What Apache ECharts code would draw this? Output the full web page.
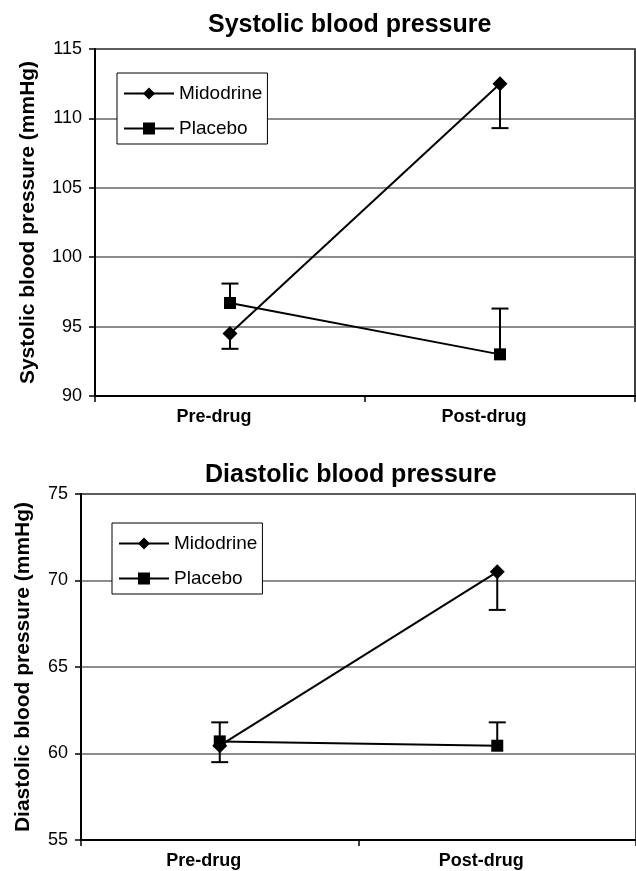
<!DOCTYPE html>
<html>
<head>
<meta charset="utf-8">
<script src="https://cdn.jsdelivr.net/npm/echarts@6/dist/echarts.min.js"></script>
<style>
html, body { margin: 0; padding: 0; background: #fff; }
#bp-chart { width: 636px; height: 871px; }
</style>
</head>
<body>
<div id="bp-chart"></div>
<script>
var categories = ['Pre-drug', 'Post-drug'];

// systolic (mmHg)
var sysMidodrine = [94.5, 112.5];
var sysMidodrineLow = [93.4, 109.3];   // minus error bars
var sysPlacebo = [96.7, 93.0];
var sysPlaceboHigh = [98.1, 96.3];     // plus error bars

// diastolic (mmHg)
var diaMidodrine = [60.45, 70.5];
var diaMidodrineLow = [59.5, 68.3];
var diaPlacebo = [60.7, 60.45];
var diaPlaceboHigh = [61.8, 61.8];

var sysTicks = [90, 115, 5];
var diaTicks = [55, 75, 5];

var font = "'Liberation Sans', Arial, sans-serif";

function errData(mean, end) {
    return mean.map(function (v, i) { return [i, v, end[i]]; });
}

function renderErr(params, api) {
    var p1 = api.coord([api.value(0), api.value(1)]);
    var p2 = api.coord([api.value(0), api.value(2)]);
    var style = { stroke: '#000', lineWidth: 2 };
    return {
        type: 'group',
        children: [
            { type: 'line', shape: { x1: p1[0], y1: p1[1], x2: p2[0], y2: p2[1] }, style: style },
            { type: 'line', shape: { x1: p2[0] - 8.5, y1: p2[1], x2: p2[0] + 8.5, y2: p2[1] }, style: style }
        ]
    };
}

function yAxis(idx, ticks, name, gap) {
    return {
        type: 'value',
        gridIndex: idx,
        min: ticks[0], max: ticks[1], interval: ticks[2],
        name: name,
        nameLocation: 'middle',
        nameGap: gap,
        nameTextStyle: { fontFamily: font, fontSize: 21, fontWeight: 'bold', color: '#000' },
        axisLine: { show: true, lineStyle: { color: '#000', width: 2 } },
        axisTick: { show: true, length: 6, lineStyle: { color: '#000', width: 1.5 } },
        axisLabel: { fontFamily: font, fontSize: 18, color: '#000', margin: 13 },
        splitLine: { lineStyle: { color: '#666', width: 1.5 } }
    };
}

function xAxis(idx) {
    return {
        type: 'category',
        gridIndex: idx,
        data: categories,
        boundaryGap: true,
        axisLine: { lineStyle: { color: '#000', width: 2 } },
        axisTick: { show: true, length: 6, lineStyle: { color: '#000', width: 1.5 } },
        axisLabel: {
            fontFamily: font, fontSize: 18, fontWeight: 'bold', color: '#000',
            margin: 12, padding: [0, 32, 0, 0]
        }
    };
}

function lineSeries(name, idx, data, symbol, size) {
    return {
        name: name,
        type: 'line',
        xAxisIndex: idx, yAxisIndex: idx,
        data: data,
        symbol: symbol,
        symbolSize: size,
        showAllSymbol: true,
        lineStyle: { color: '#000', width: 2 },
        itemStyle: { color: '#000' },
        z: 3
    };
}

function errSeries(name, idx, mean, end) {
    return {
        name: name,
        type: 'custom',
        xAxisIndex: idx, yAxisIndex: idx,
        data: errData(mean, end),
        encode: { x: 0, y: [1, 2] },
        renderItem: renderErr,
        z: 2
    };
}

function legend(left, top) {
    return {
        orient: 'vertical',
        left: left, top: top,
        data: ['Midodrine', 'Placebo'],
        itemWidth: 50, itemHeight: 15, itemGap: 16,
        padding: [11, 5, 6, 6],
        borderColor: '#000', borderWidth: 1,
        backgroundColor: '#fff',
        textStyle: { fontFamily: font, fontSize: 19, color: '#000' }
    };
}

var chart = echarts.init(document.getElementById('bp-chart'));
chart.setOption({
    backgroundColor: '#fff',
    animation: false,
    title: [
        { text: 'Systolic blood pressure', left: 203, top: 8,
          textStyle: { fontFamily: font, fontSize: 25, fontWeight: 'bold', color: '#000' } },
        { text: 'Diastolic blood pressure', left: 200, top: 458,
          textStyle: { fontFamily: font, fontSize: 25, fontWeight: 'bold', color: '#000' } }
    ],
    legend: [legend(117, 73), legend(112, 523)],
    grid: [
        { left: 95, right: 1, top: 49, height: 347, show: true, borderColor: '#000', borderWidth: 1.5 },
        { left: 81, right: 0, top: 494, height: 346, show: true, borderColor: '#000', borderWidth: 1.5 }
    ],
    xAxis: [xAxis(0), xAxis(1)],
    yAxis: [
        yAxis(0, sysTicks, 'Systolic blood pressure (mmHg)', 56),
        yAxis(1, diaTicks, 'Diastolic blood pressure (mmHg)', 47)
    ],
    series: [
        errSeries('Midodrine err', 0, sysMidodrine, sysMidodrineLow),
        errSeries('Placebo err', 0, sysPlacebo, sysPlaceboHigh),
        lineSeries('Midodrine', 0, sysMidodrine, 'diamond', 15),
        lineSeries('Placebo', 0, sysPlacebo, 'rect', 12),
        errSeries('Midodrine err', 1, diaMidodrine, diaMidodrineLow),
        errSeries('Placebo err', 1, diaPlacebo, diaPlaceboHigh),
        lineSeries('Midodrine', 1, diaMidodrine, 'diamond', 15),
        lineSeries('Placebo', 1, diaPlacebo, 'rect', 12)
    ]
});
</script>
</body>
</html>
